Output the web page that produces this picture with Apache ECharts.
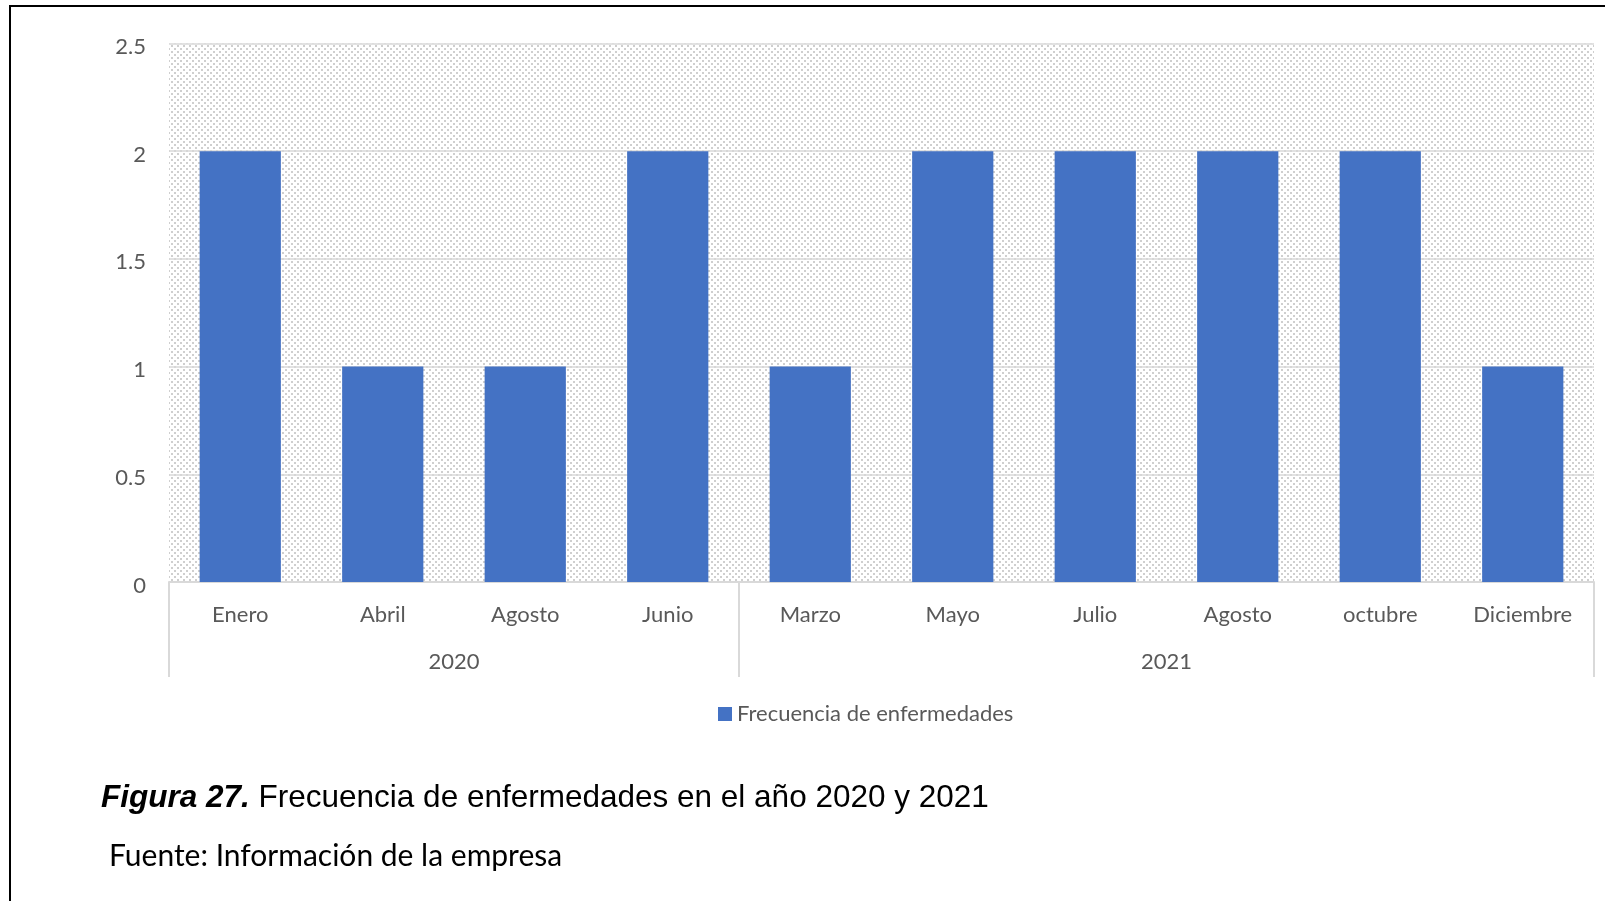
<!DOCTYPE html>
<html>
<head>
<meta charset="utf-8">
<script src="https://cdn.jsdelivr.net/npm/echarts@6/dist/echarts.min.js"></script>
<style>
  html, body { margin: 0; padding: 0; background: #fff; }
  #frame {
    position: absolute; left: 9px; top: 5px; width: 1700px; height: 1000px;
    border-top: 2px solid #000; border-left: 2px solid #000;
  }
  #myChart { position: absolute; left: 0; top: 0; width: 1605px; height: 901px; }
</style>
</head>
<body>
<div id="frame"></div>
<div id="myChart"></div>
<script>
// data
var months = ['Enero', 'Abril', 'Agosto', 'Junio', 'Marzo', 'Mayo', 'Julio', 'Agosto', 'octubre', 'Diciembre']
var frecuencia = [2, 1, 1, 2, 1, 2, 2, 2, 2, 1]
var years = ['2020', '2021']
var monthsPerYear = [4, 6]
var yTicks = [0, 0.5, 1, 1.5, 2, 2.5]

// group boundaries and centers for the year axis
var yearBounds = [0]
var yearCenters = []
monthsPerYear.forEach(function (n, i) {
  var start = yearBounds[i]
  yearBounds.push(start + n)
  yearCenters.push(start + n / 2)
})

// dotted hatch for the plot area
function makePattern() {
  var c = document.createElement('canvas')
  c.width = 6
  c.height = 6
  var ctx = c.getContext('2d')
  ctx.fillStyle = '#ffffff'
  ctx.fillRect(0, 0, 6, 6)
  ctx.fillStyle = '#cfcfcf'
  ctx.fillRect(0, 0, 2, 2)
  ctx.fillRect(3, 3, 2, 2)
  return c
}

var labelColor = '#595959'
var lineColor = '#d9d9d9'
var font = 'Lato'

var chart = echarts.init(document.getElementById('myChart'))
chart.setOption({
  animation: false,
  title: [
    {
      text: '{b|Figura 27.}{r| Frecuencia de enfermedades en el año 2020 y 2021}',
      left: 96,
      top: 777,
      textStyle: {
        fontWeight: 'normal',
        rich: {
          b: { fontFamily: 'Liberation Sans', fontSize: 31.5, fontWeight: 'bold', fontStyle: 'italic', color: '#000' },
          r: { fontFamily: 'Liberation Sans', fontSize: 31.5, fontWeight: 'normal', color: '#000' }
        }
      }
    },
    {
      text: 'Fuente: Información de la empresa',
      left: 104,
      top: 836,
      textStyle: { fontFamily: font, fontSize: 30, fontWeight: 'normal', color: '#000' }
    }
  ],
  legend: {
    data: ['Frecuencia de enfermedades'],
    left: 713,
    top: 698,
    icon: 'rect',
    itemWidth: 14,
    itemHeight: 14,
    textStyle: { fontFamily: font, fontSize: 22, color: labelColor }
  },
  grid: {
    left: 169,
    right: 11,
    top: 43.5,
    bottom: 319,
    show: true,
    borderWidth: 0,
    backgroundColor: { image: makePattern(), repeat: 'repeat' }
  },
  xAxis: [
    {
      type: 'category',
      data: months,
      position: 'bottom',
      axisLine: { show: true, lineStyle: { color: lineColor, width: 2 } },
      axisTick: { show: false },
      axisLabel: { margin: 22, fontFamily: font, fontSize: 22, color: labelColor, interval: 0 }
    },
    {
      type: 'value',
      min: 0,
      max: months.length,
      position: 'bottom',
      offset: 0,
      splitLine: { show: false },
      axisLine: { show: false },
      axisTick: { show: true, customValues: yearBounds, length: 95, lineStyle: { color: lineColor, width: 2 } },
      axisLabel: {
        customValues: yearCenters,
        margin: 69,
        fontFamily: font,
        fontSize: 22,
        color: labelColor,
        formatter: function (v) {
          var i = yearCenters.indexOf(v)
          return i >= 0 ? years[i] : ''
        }
      }
    }
  ],
  yAxis: {
    type: 'value',
    min: yTicks[0],
    max: yTicks[yTicks.length - 1],
    interval: 0.5,
    axisLine: { show: false },
    axisTick: { show: false },
    axisLabel: {
      margin: 23,
      formatter: function (v) { return '{n|' + v + '}' },
      rich: { n: { fontFamily: font, fontSize: 22, color: labelColor, padding: [7, 0, 0, 0] } }
    },
    splitLine: { lineStyle: { color: lineColor, width: 1.5 } }
  },
  series: [
    {
      name: 'Frecuencia de enfermedades',
      type: 'bar',
      data: frecuencia,
      barWidth: '57%',
      itemStyle: { color: '#4472c4' }
    }
  ]
})
</script>
</body>
</html>
